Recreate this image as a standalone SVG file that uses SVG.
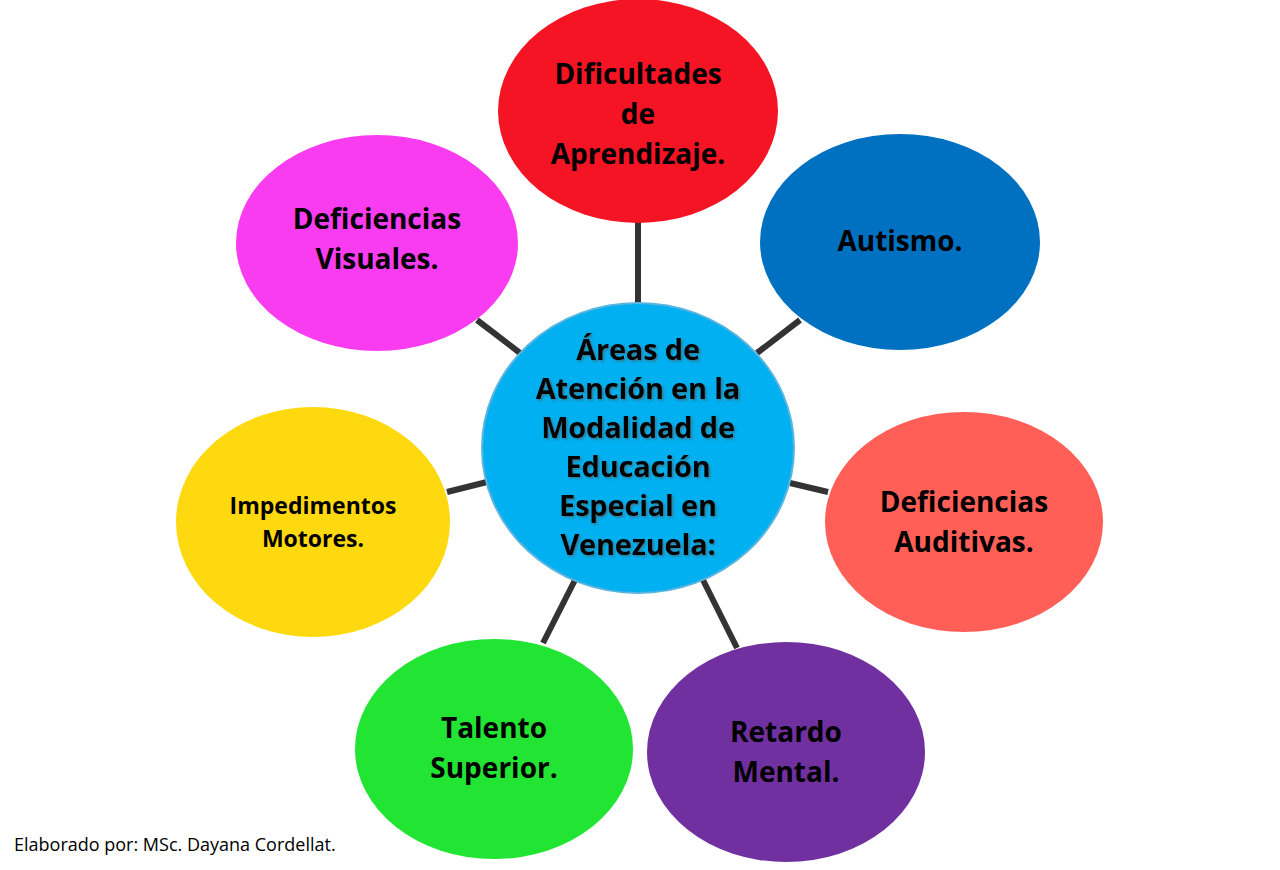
<svg xmlns="http://www.w3.org/2000/svg" width="1280" height="870" viewBox="0 0 1280 870">
<style>
text{font-family:"Open Sans","Liberation Sans",sans-serif;font-weight:bold;fill:#000;text-anchor:middle}
.t{font-size:28px;letter-spacing:0px}
.c{font-size:29px;letter-spacing:-0.2px}
.line{stroke:#333;stroke-width:6}
</style>
<defs><filter id="sh"><feDropShadow dx="1.5" dy="1.5" stdDeviation="0.8" flood-color="#555" flood-opacity="0.6"/></filter></defs>
<rect width="1280" height="870" fill="#fff"/>
<g id="connectors">
<line class="line" x1="638" y1="222" x2="638" y2="304"/>
<line class="line" x1="800" y1="320" x2="757" y2="353"/>
<line class="line" x1="790" y1="483" x2="828" y2="492"/>
<line class="line" x1="703" y1="580" x2="737" y2="648"/>
<line class="line" x1="575" y1="580" x2="543" y2="643"/>
<line class="line" x1="447" y1="492" x2="487" y2="482"/>
<line class="line" x1="477" y1="320" x2="520" y2="353"/>
</g>
<g id="center"><ellipse cx="638" cy="448" rx="156" ry="145" fill="#00b0f0" stroke="#5ab4e0" stroke-width="2"/>
<g filter="url(#sh)"><text x="638" y="360" class="c">Áreas de</text><text x="638" y="399" class="c">Atención en la</text><text x="638" y="438" class="c">Modalidad de</text><text x="638" y="477" class="c">Educación</text><text x="638" y="516" class="c">Especial en</text><text x="638" y="555" class="c">Venezuela:</text></g></g>
<g id="dificultades"><ellipse cx="638" cy="111" rx="140" ry="112" fill="#f41424"/>
<text class="t" x="638" y="84">Dificultades</text><text class="t" x="638" y="124">de</text><text class="t" x="638" y="164">Aprendizaje.</text></g>
<g id="autismo"><ellipse cx="900" cy="242" rx="140" ry="108" fill="#0070c0"/>
<text class="t" x="900" y="251">Autismo.</text></g>
<g id="auditivas"><ellipse cx="964" cy="522" rx="139" ry="110" fill="#ff5f57"/>
<text class="t" x="964" y="512">Deficiencias</text><text class="t" x="964" y="552">Auditivas.</text></g>
<g id="retardo"><ellipse cx="786" cy="752" rx="139" ry="110" fill="#7030a0"/>
<text class="t" x="786" y="742">Retardo</text><text class="t" x="786" y="782">Mental.</text></g>
<g id="talento"><ellipse cx="494" cy="749" rx="139" ry="110" fill="#22e432"/>
<text class="t" x="494" y="738">Talento</text><text class="t" x="494" y="778">Superior.</text></g>
<g id="impedimentos"><ellipse cx="313" cy="522" rx="137" ry="115" fill="#ffd90f"/>
<text x="313" y="514" style="font-size:23px">Impedimentos</text><text x="313" y="547" style="font-size:23px">Motores.</text></g>
<g id="visuales"><ellipse cx="377" cy="243" rx="141" ry="108" fill="#fa3cf0"/>
<text class="t" x="377" y="229">Deficiencias</text><text class="t" x="377" y="269">Visuales.</text></g>
<text x="14" y="851" style="font-weight:normal;font-size:18px;text-anchor:start">Elaborado por: MSc. Dayana Cordellat.</text>
</svg>
